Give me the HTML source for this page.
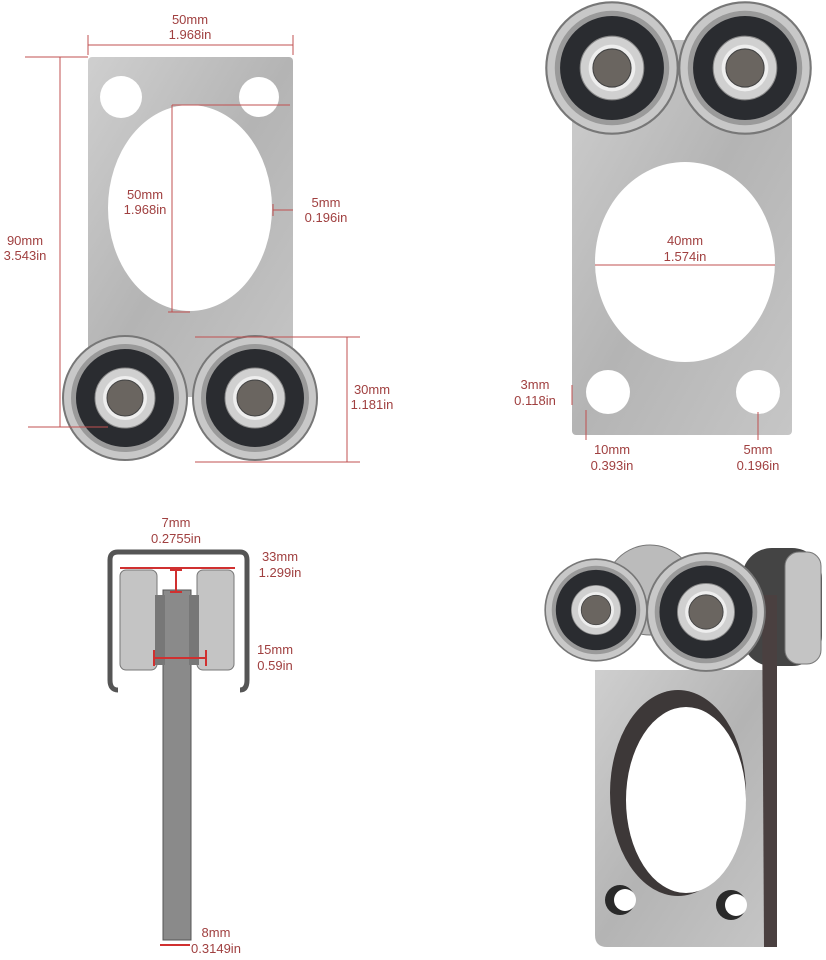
<!DOCTYPE html><html><head><style>body{margin:0;background:#fff}svg{display:block}
text{font-family:"Liberation Sans",sans-serif;font-size:13px;fill:#a04040;text-anchor:middle}</style></head><body>
<svg width="826" height="960" viewBox="0 0 826 960">
<defs>
<linearGradient id="m" x1="0" y1="0" x2="1" y2="1"><stop offset="0" stop-color="#cfcfcf"/><stop offset=".5" stop-color="#b4b4b4"/><stop offset="1" stop-color="#c6c6c6"/></linearGradient>
<g id="b"><circle r="62" fill="#c8c8c8" stroke="#777" stroke-width="2"/><circle r="54" fill="#9a9a9a"/><circle r="49" fill="#2a2c30"/><circle r="30" fill="#d0d0d0" stroke="#888"/><circle r="22" fill="#eee"/><circle r="18" fill="#6a6560" stroke="#444"/></g>
</defs>
<!-- top left -->
<rect x="88" y="57" width="205" height="340" rx="4" fill="url(#m)"/>
<ellipse cx="190" cy="208" rx="82" ry="103" fill="#fff"/>
<circle cx="121" cy="97" r="21" fill="#fff"/><circle cx="259" cy="97" r="20" fill="#fff"/>
<use href="#b" x="125" y="398"/><use href="#b" x="255" y="398"/>
<g stroke="#c05050" stroke-width="1" fill="none">
<path d="M88 45H293M88 35V55M293 35V55M25 57H88M60 57V427M28 427H108M172 105V312M172 105H290M168 312H190M273 210H293M273 204V216M195 337H360M195 462H360M347 337V462"/></g>
<text x="190" y="24">50mm</text><text x="190" y="39">1.968in</text>
<text x="25" y="245">90mm</text><text x="25" y="260">3.543in</text>
<text x="145" y="199">50mm</text><text x="145" y="214">1.968in</text>
<text x="326" y="207">5mm</text><text x="326" y="222">0.196in</text>
<text x="372" y="394">30mm</text><text x="372" y="409">1.181in</text>
<!-- top right -->
<rect x="572" y="40" width="220" height="395" rx="4" fill="url(#m)"/>
<ellipse cx="685" cy="262" rx="90" ry="100" fill="#fff"/>
<circle cx="608" cy="392" r="22" fill="#fff"/><circle cx="758" cy="392" r="22" fill="#fff"/>
<use href="#b" transform="translate(612 68) scale(1.06)"/>
<use href="#b" transform="translate(745 68) scale(1.06)"/>
<g stroke="#c05050" fill="none"><path d="M595 265H775M572 385V405M586 410V440M758 412V440"/></g>
<text x="685" y="245">40mm</text><text x="685" y="261">1.574in</text>
<text x="535" y="389">3mm</text><text x="535" y="405">0.118in</text>
<text x="612" y="454">10mm</text><text x="612" y="470">0.393in</text>
<text x="758" y="454">5mm</text><text x="758" y="470">0.196in</text>
<!-- bottom left -->
<path d="M118 690Q110 690 110 680V560Q110 552 118 552H240Q247 552 247 560V680Q247 690 240 690" fill="none" stroke="#555" stroke-width="5" stroke-linejoin="round"/>
<rect x="163" y="590" width="28" height="350" fill="#8a8a8a" stroke="#555"/>
<rect x="120" y="570" width="37" height="100" rx="6" fill="#c4c4c4" stroke="#777"/>
<rect x="197" y="570" width="37" height="100" rx="6" fill="#c4c4c4" stroke="#777"/>
<rect x="155" y="595" width="10" height="70" fill="#777"/><rect x="189" y="595" width="10" height="70" fill="#777"/>
<g stroke="#d03030" stroke-width="2" fill="none"><path d="M154 658H206M154 650V666M206 650V666M176 570V592M170 570H182M170 592H182M160 945H190M120 568H235"/></g>
<text x="176" y="527">7mm</text><text x="176" y="543">0.2755in</text>
<text x="280" y="561">33mm</text><text x="280" y="577">1.299in</text>
<text x="275" y="654">15mm</text><text x="275" y="670">0.59in</text>
<text x="216" y="937">8mm</text><text x="216" y="953">0.3149in</text>
<!-- bottom right -->
<rect x="742" y="548" width="80" height="118" rx="30" fill="#444"/>
<rect x="785" y="552" width="36" height="112" rx="14" fill="#c4c4c4" stroke="#777"/>
<circle cx="650" cy="590" r="45" fill="#bbb" stroke="#777"/>
<path d="M595 670H776V947H607Q595 947 595 935Z" fill="url(#m)"/>
<path d="M762 595L777 595L777 947L764 947Z" fill="#4a4040"/>
<ellipse cx="678" cy="793" rx="68" ry="103" fill="#3d3838"/>
<ellipse cx="686" cy="800" rx="60" ry="93" fill="#fff"/>
<circle cx="620" cy="900" r="15" fill="#2a2a2a"/><circle cx="625" cy="900" r="11" fill="#fff"/>
<circle cx="731" cy="905" r="15" fill="#2a2a2a"/><circle cx="736" cy="905" r="11" fill="#fff"/>
<use href="#b" transform="translate(596 610) scale(.82)"/>
<use href="#b" transform="translate(706 612) scale(.95)"/>
</svg></body></html>
